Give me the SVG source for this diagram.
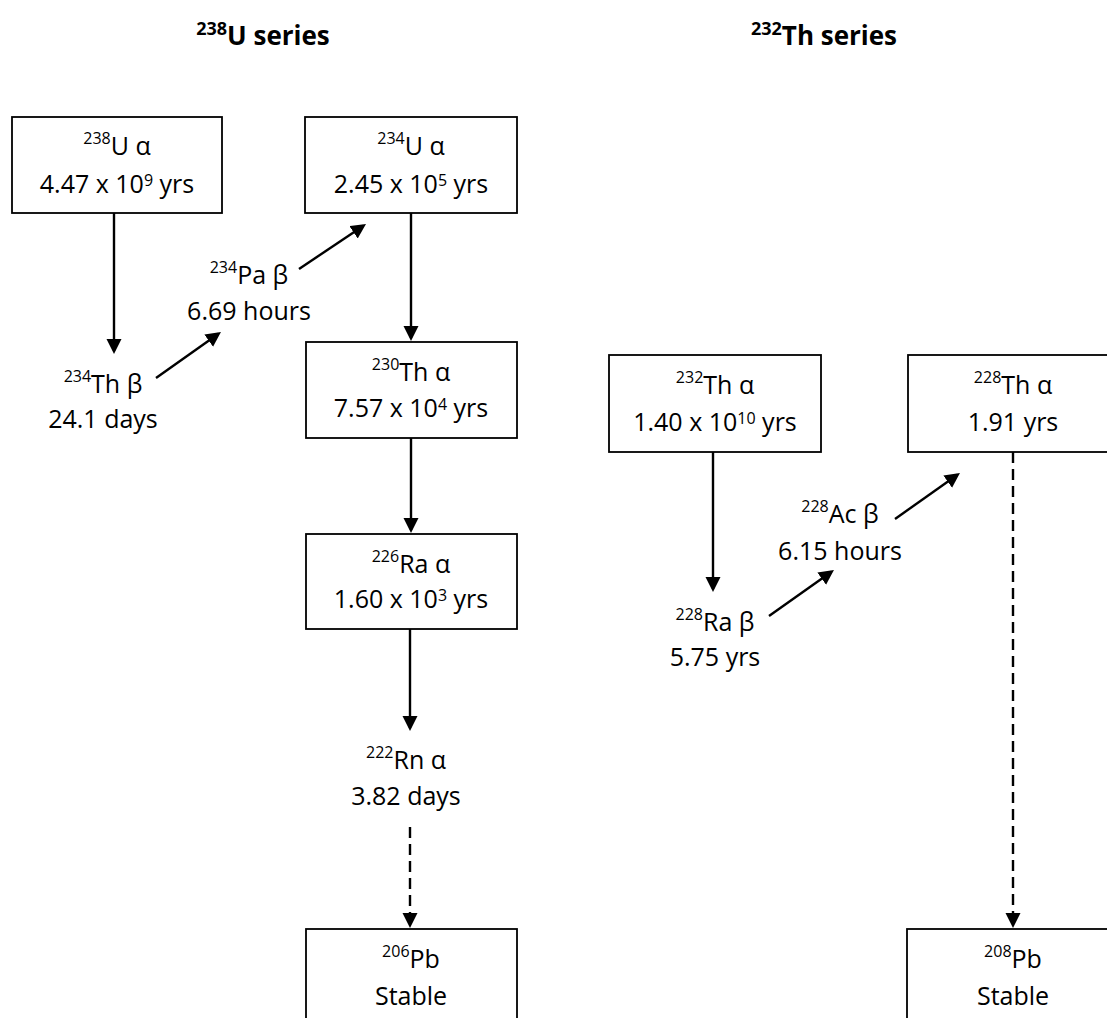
<svg xmlns="http://www.w3.org/2000/svg" width="1107" height="1018" viewBox="0 0 1107 1018">
  <style>
    .box { fill: #ffffff; stroke: #000000; stroke-width: 1.8; }
    .t { font-family: "Open Sans", "Liberation Sans", sans-serif; font-size: 25px; fill: #000000; text-anchor: middle; }
    .title { font-family: "Open Sans", "Liberation Sans", sans-serif; font-size: 26px; font-weight: bold; fill: #000000; text-anchor: middle; }
    .sup { font-size: 16px; }
    .tsup { font-size: 18px; }
    .arr { stroke: #000000; stroke-width: 2.4; fill: none; marker-end: url(#ah); }
    .dash { stroke-dasharray: 11 6; }
  </style>
  <defs>
    <marker id="ah" markerUnits="userSpaceOnUse" markerWidth="16" markerHeight="16" refX="12" refY="7.5" orient="auto" viewBox="0 0 16 16">
      <path d="M0,0 L15,7.5 L0,15 z" fill="#000000"/>
    </marker>
  </defs>
  <rect x="0" y="0" width="1107" height="1018" fill="#ffffff"/>

  <g id="titles">
    <text class="title" x="263" y="45"><tspan class="tsup" dy="-10">238</tspan><tspan dy="10">U series</tspan></text>
    <text class="title" x="824" y="45"><tspan class="tsup" dy="-10">232</tspan><tspan dy="10">Th series</tspan></text>
  </g>

  <g id="connectors">
    <line class="arr" x1="114" y1="213" x2="114" y2="351"/>
    <line class="arr" x1="156" y1="378" x2="218.5" y2="333.7"/>
    <line class="arr" x1="299" y1="269" x2="363.5" y2="225.7"/>
    <line class="arr" x1="411" y1="213" x2="411" y2="338"/>
    <line class="arr" x1="411" y1="438" x2="411" y2="530"/>
    <line class="arr" x1="410" y1="629" x2="410" y2="728"/>
    <line class="arr dash" x1="410" y1="827" x2="410" y2="925"/>
    <line class="arr" x1="713" y1="452" x2="713" y2="589"/>
    <line class="arr" x1="769" y1="616" x2="831.5" y2="571.7"/>
    <line class="arr" x1="895" y1="519" x2="957.5" y2="474.7"/>
    <line class="arr dash" x1="1013" y1="452" x2="1013" y2="925"/>
  </g>

  <g id="n-u238">
    <rect class="box" x="12" y="117" width="210" height="96"/>
    <text class="t" x="117" y="155"><tspan class="sup" dy="-11">238</tspan><tspan dy="11">U α</tspan></text>
    <text class="t" x="117" y="193">4.47 x 10<tspan class="sup" dy="-7">9</tspan><tspan dy="7"> yrs</tspan></text>
  </g>

  <g id="n-u234">
    <rect class="box" x="305" y="117" width="212" height="96"/>
    <text class="t" x="411" y="155"><tspan class="sup" dy="-11">234</tspan><tspan dy="11">U α</tspan></text>
    <text class="t" x="411" y="193">2.45 x 10<tspan class="sup" dy="-7">5</tspan><tspan dy="7"> yrs</tspan></text>
  </g>

  <g id="n-pa234">
    <text class="t" x="249" y="284"><tspan class="sup" dy="-11">234</tspan><tspan dy="11">Pa β</tspan></text>
    <text class="t" x="249" y="320">6.69 hours</text>
  </g>

  <g id="n-th234">
    <text class="t" x="103" y="393"><tspan class="sup" dy="-11">234</tspan><tspan dy="11">Th β</tspan></text>
    <text class="t" x="103" y="428">24.1 days</text>
  </g>

  <g id="n-th230">
    <rect class="box" x="306" y="342" width="211" height="96"/>
    <text class="t" x="411" y="381"><tspan class="sup" dy="-11">230</tspan><tspan dy="11">Th α</tspan></text>
    <text class="t" x="411" y="417">7.57 x 10<tspan class="sup" dy="-7">4</tspan><tspan dy="7"> yrs</tspan></text>
  </g>

  <g id="n-ra226">
    <rect class="box" x="306" y="534" width="211" height="95"/>
    <text class="t" x="411" y="573"><tspan class="sup" dy="-11">226</tspan><tspan dy="11">Ra α</tspan></text>
    <text class="t" x="411" y="608">1.60 x 10<tspan class="sup" dy="-7">3</tspan><tspan dy="7"> yrs</tspan></text>
  </g>

  <g id="n-rn222">
    <text class="t" x="406" y="769"><tspan class="sup" dy="-11">222</tspan><tspan dy="11">Rn α</tspan></text>
    <text class="t" x="406" y="805">3.82 days</text>
  </g>

  <g id="n-pb206">
    <rect class="box" x="306" y="929" width="211" height="100"/>
    <text class="t" x="411" y="968"><tspan class="sup" dy="-11">206</tspan><tspan dy="11">Pb</tspan></text>
    <text class="t" x="411" y="1005">Stable</text>
  </g>

  <g id="n-th232">
    <rect class="box" x="609" y="355" width="212" height="97"/>
    <text class="t" x="715" y="394"><tspan class="sup" dy="-11">232</tspan><tspan dy="11">Th α</tspan></text>
    <text class="t" x="715" y="431">1.40 x 10<tspan class="sup" dy="-7">10</tspan><tspan dy="7"> yrs</tspan></text>
  </g>

  <g id="n-th228">
    <rect class="box" x="908" y="355" width="211" height="97"/>
    <text class="t" x="1013" y="394"><tspan class="sup" dy="-11">228</tspan><tspan dy="11">Th α</tspan></text>
    <text class="t" x="1013" y="431">1.91 yrs</text>
  </g>

  <g id="n-ac228">
    <text class="t" x="840" y="523"><tspan class="sup" dy="-11">228</tspan><tspan dy="11">Ac β</tspan></text>
    <text class="t" x="840" y="560">6.15 hours</text>
  </g>

  <g id="n-ra228">
    <text class="t" x="715" y="631"><tspan class="sup" dy="-11">228</tspan><tspan dy="11">Ra β</tspan></text>
    <text class="t" x="715" y="666">5.75 yrs</text>
  </g>

  <g id="n-pb208">
    <rect class="box" x="907" y="929" width="212" height="100"/>
    <text class="t" x="1013" y="968"><tspan class="sup" dy="-11">208</tspan><tspan dy="11">Pb</tspan></text>
    <text class="t" x="1013" y="1005">Stable</text>
  </g>
</svg>
